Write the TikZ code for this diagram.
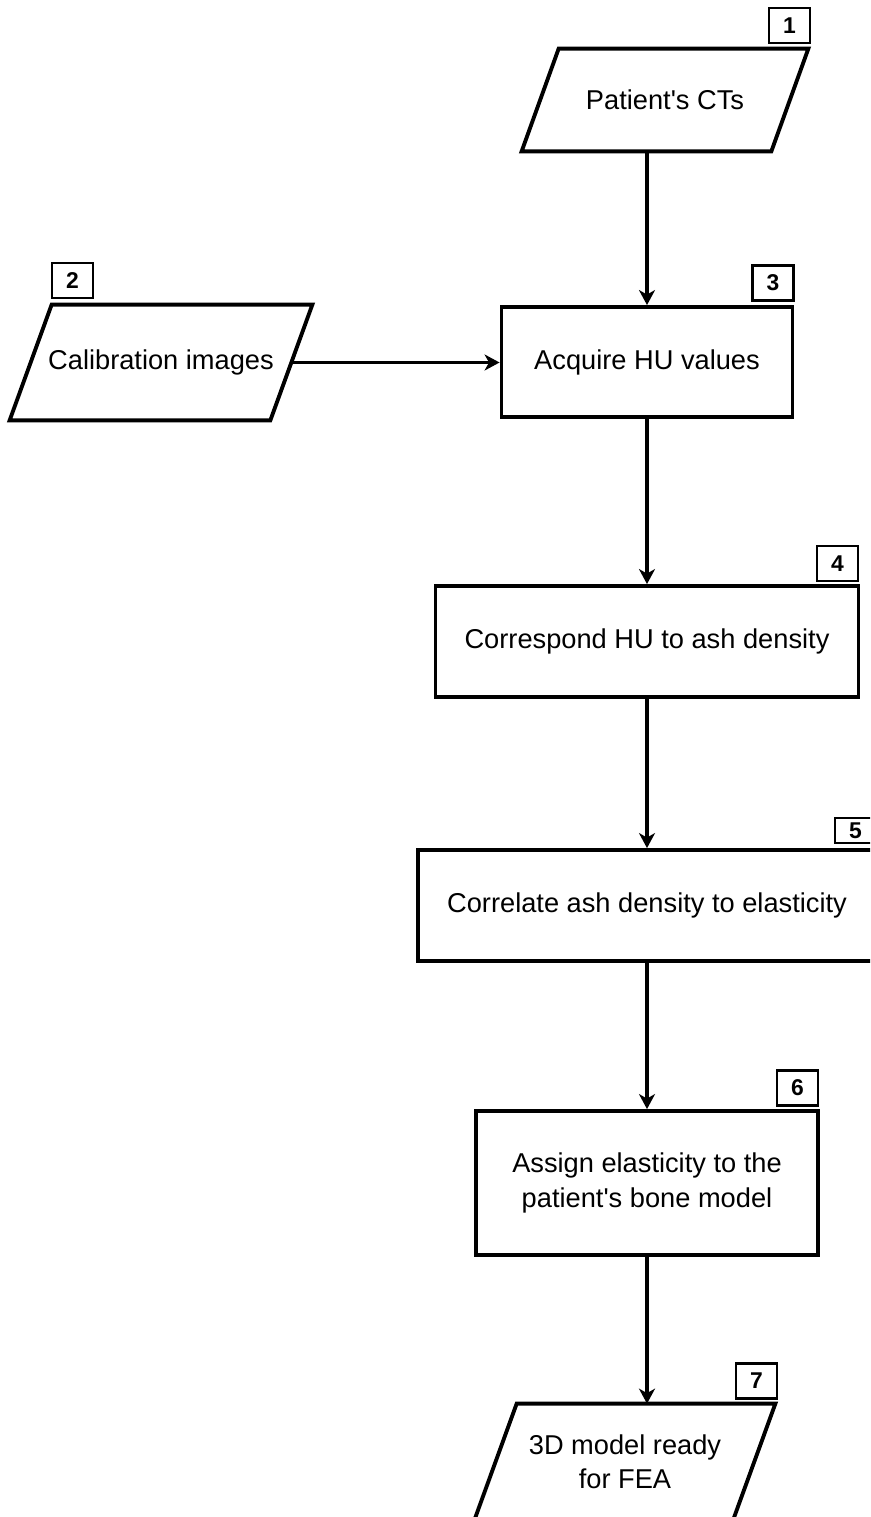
\documentclass[tikz,border=0pt]{standalone}
\usepackage{fontspec}
\setmainfont{Liberation Sans}
\usetikzlibrary{arrows.meta,positioning}
\newcommand{\boxfont}{\fontsize{15.5}{19.5}\selectfont}

\begin{document}
\begin{tikzpicture}[
proc/.style={draw,line width=2.2pt,align=center,inner sep=0pt,font=\boxfont},
io/.style={align=center,inner sep=0pt,font=\boxfont},
para/.style={line width=2.2pt},
num/.style={draw,line width=1.5pt,minimum width=8.2mm,minimum height=7mm,inner sep=0pt,font=\bfseries\fontsize{13}{15}\selectfont},
arr/.style={-{Stealth[length=3mm,width=3.2mm,inset=0.9mm]},line width=2.2pt}]
\useasboundingbox (0,0) rectangle (17.4,-30.34);
\clip (0,0) rectangle (17.4,-30.34);
\node[io,minimum width=5.72cm,minimum height=2.04cm] (ct) at (13.30,-2.00) {Patient\textquotesingle s CTs};
\node[io,minimum width=6.04cm,minimum height=2.30cm] (calib) at (3.22,-7.25) {Calibration images};
\node[proc,minimum width=5.82cm,minimum height=2.20cm] (acq) at (12.94,-7.24) {Acquire HU values};
\node[proc,minimum width=8.46cm,minimum height=2.22cm] (ash) at (12.94,-12.83) {Correspond HU to ash density};
\node[proc,minimum width=9.16cm,minimum height=2.22cm] (elas) at (12.94,-18.11) {Correlate ash density to elasticity};
\node[proc,minimum width=6.84cm,minimum height=2.88cm] (assign) at (12.94,-23.66) {Assign elasticity to the\\patient\textquotesingle s bone model};
\node[io,minimum width=6.00cm,minimum height=2.30cm] (fea) at (12.50,-29.23) {3D model ready\\for FEA};
% parallelograms for the data nodes
\draw[para] ([xshift=7.4mm]ct.north west)--(ct.north east)--([xshift=-7.4mm]ct.south east)--(ct.south west)--cycle;
\draw[para] ([xshift=8.4mm]calib.north west)--(calib.north east)--([xshift=-8.4mm]calib.south east)--(calib.south west)--cycle;
\draw[para] ([xshift=8.4mm]fea.north west)--(fea.north east)--([xshift=-8.4mm]fea.south east)--(fea.south west)--cycle;
% step numbers
\node[num] (n1) at (15.79,-0.51) {1};
\node[num] (n2) at (1.45,-5.61) {2};
\node[num] (n3) at (15.46,-5.66) {3};
\node[num] (n4) at (16.75,-11.27) {4};
\node[num,minimum height=5mm] (n5) at (17.11,-16.61) {5};
\node[num] (n6) at (15.95,-21.76) {6};
\node[num] (n7) at (15.13,-27.62) {7};
\draw[arr] (ct.south -| acq.north)--(acq.north);
\draw[arr] ([xshift=-4.2mm]calib.east)--(calib.east -| acq.west);
\draw[arr] (acq)--(ash);
\draw[arr] (ash)--(elas);
\draw[arr] (elas)--(assign);
\draw[arr] (assign.south)--(assign.south |- fea.north);
\end{tikzpicture}
\end{document}
